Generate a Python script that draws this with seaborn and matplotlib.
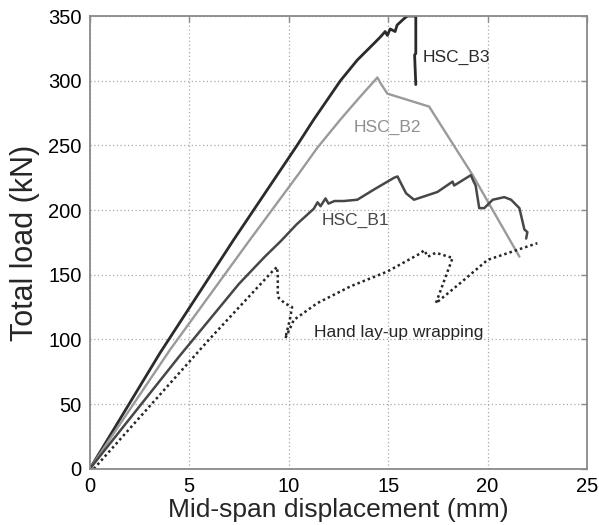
import matplotlib
matplotlib.use("Agg")
import matplotlib.pyplot as plt
import seaborn as sns
import pandas as pd

# ---- data ----
b3_x = [0, 3.53, 7.23, 10.42, 11.26, 12.6, 13.45, 14.3, 14.62, 14.85, 14.96, 15.1, 15.35, 15.45, 15.8, 15.97, 16.39, 16.39, 16.33, 16.39]
b3_y = [0, 89.6, 177, 250, 270, 300, 316, 329, 334, 338, 335, 340, 338, 343, 348, 350, 350, 321, 320, 297]

b2_x = [0, 4.03, 8.0, 10.5, 11.43, 12.6, 13.5, 14.46, 14.62, 14.96, 17.06, 19.25, 21.6]
b2_y = [0, 92, 176, 228, 248, 270, 286, 302.5, 298, 290, 280, 227, 164]

b1_x = [0, 4.5, 7.5, 8.8, 9.6, 10.4, 11.26, 11.45, 11.6, 11.85, 12.0, 12.3, 12.77, 13.45, 14.3, 15.3, 15.47, 15.6, 15.9,
        16.3, 17.48, 18.24, 18.32, 19.16, 19.3, 19.4, 19.58, 19.83, 20.26, 20.84, 21.18, 21.6, 21.85, 22.0, 21.94]
b1_y = [0, 87, 143, 164, 176, 189, 201, 206, 203, 209, 205, 207, 207, 208, 216, 225, 226, 222, 213,
        208, 214, 222, 219, 227, 222, 219, 201.5, 201.5, 208, 210, 208, 201.5, 185, 183, 178]

hand_x = [0.2, 3.1, 6.0, 9.2, 9.41, 9.45, 9.45, 9.5, 9.8, 10.17, 10.05, 9.83, 10.08, 10.25, 11.43, 13.1, 14.96, 16.64,
          16.81, 17.0, 17.4, 18.24, 17.4, 18.66, 20.0, 22.5]
hand_y = [0, 50, 100, 153, 156, 150, 135, 132, 128, 125, 115, 101, 109, 115, 128, 141, 152.5, 166.7,
          169, 164, 167, 163, 128, 144, 161.5, 174.4]

series_names = ["HSC_B3", "HSC_B2", "HSC_B1", "Hand lay-up wrapping"]
x_ticks = [0, 5, 10, 15, 20, 25]
y_ticks = [0, 50, 100, 150, 200, 250, 300, 350]

sns.set_style("white")
plt.rcParams["font.family"] = ["Liberation Sans", "DejaVu Sans"]

fig = plt.figure(figsize=(5.99, 5.25), dpi=100)
ax = fig.add_axes([0.150, 0.107, 0.830, 0.8625])

ax.set_xlim(0, 25)
ax.set_ylim(0, 350)
ax.set_xticks(x_ticks)
ax.set_yticks(y_ticks)
ax.grid(True, color="#a8a8a8", linestyle=(0, (1, 2)), linewidth=0.9)
ax.set_axisbelow(True)

styles = [
    (b3_x, b3_y, "#2b2b2b", "-", 2.0),
    (b2_x, b2_y, "#9a9a9a", "-", 1.7),
    (b1_x, b1_y, "#474747", "-", 1.8),
    (hand_x, hand_y, "#262626", (0, (1, 1.2)), 1.8),
]
for (xs, ys, c, ls, lw), name in zip(styles, series_names):
    df = pd.DataFrame({"x": xs, "y": ys})
    sns.lineplot(data=df, x="x", y="y", sort=False, estimator=None, ax=ax,
                 color=c, linestyle=ls, linewidth=lw, clip_on=True)

ax.text(16.75, 318, "HSC_B3", fontsize=12.5, color="#2b2b2b", va="center", ha="left")
ax.text(13.25, 264, "HSC_B2", fontsize=12.5, color="#8f8f8f", va="center", ha="left")
ax.text(11.65, 192, "HSC_B1", fontsize=12.5, color="#474747", va="center", ha="left")
ax.text(11.25, 105, "Hand lay-up wrapping", fontsize=12.5, color="#262626", va="center", ha="left")

for s in ax.spines.values():
    s.set_color("#8a8a8a")
    s.set_linewidth(1.3)
ax.tick_params(direction="in", top=True, right=True, length=4, width=1,
               color="#8a8a8a", labelsize=14.5, labelcolor="black", pad=6)

ax.set_xlabel("Mid-span displacement (mm)", fontsize=19, labelpad=1)
ax.set_ylabel("Total load (kN)", fontsize=22, labelpad=6)

fig.savefig("out.png", dpi=100)
